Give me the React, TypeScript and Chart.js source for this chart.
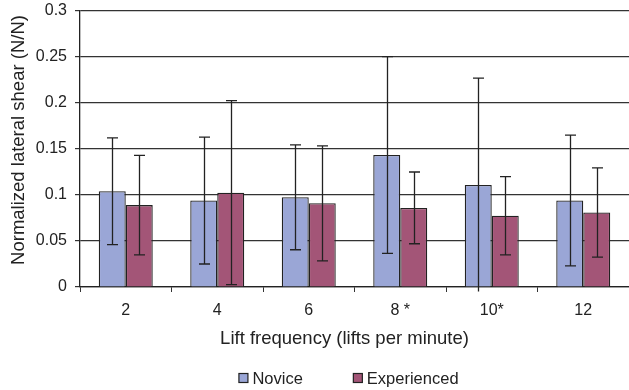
import React, { useEffect, useRef } from "react";
import { Chart, registerables } from "chart.js";

Chart.register(...registerables);

const categories = ["2", "4", "6", "8 *", "10*", "12"];
const seriesNames = ["Novice", "Experienced"];
const noviceMeans = [0.104, 0.094, 0.0975, 0.1435, 0.111, 0.094];
const noviceSD = [0.058, 0.069, 0.057, 0.107, 0.116, 0.071];
const experiencedMeans = [0.089, 0.1025, 0.091, 0.086, 0.0775, 0.081];
const experiencedSD = [0.054, 0.1, 0.0625, 0.039, 0.0425, 0.0485];
const yTicks = [0, 0.05, 0.1, 0.15, 0.2, 0.25, 0.3];
const xTitle = "Lift frequency (lifts per minute)";
const yTitle = "Normalized lateral shear (N/N)";
const colors = ["#9aa6d6", "#a35577"];

const FONT = "'Liberation Sans', Arial, sans-serif";

const errorBarPlugin = {
  id: "errorBars",
  afterDatasetsDraw(chart: any) {
    const ctx = chart.ctx;
    const yScale = chart.scales.y;
    const sds = [noviceSD, experiencedSD];
    ctx.save();
    ctx.strokeStyle = "#222";
    ctx.lineWidth = 1.3;
    chart.data.datasets.forEach((ds: any, di: number) => {
      const meta = chart.getDatasetMeta(di);
      meta.data.forEach((bar: any, i: number) => {
        const v = ds.data[i];
        const sd = sds[di][i];
        const x = Math.round(bar.x) + 0.5;
        const hi = v + sd;
        const lo = v - sd;
        const yHi = yScale.getPixelForValue(hi);
        const yLo = yScale.getPixelForValue(lo);
        ctx.beginPath();
        ctx.moveTo(x, yHi);
        ctx.lineTo(x, yLo);
        ctx.moveTo(x - 5.5, yHi);
        ctx.lineTo(x + 5.5, yHi);
        if (lo >= 0) {
          ctx.moveTo(x - 5.5, yLo);
          ctx.lineTo(x + 5.5, yLo);
        }
        ctx.stroke();
      });
    });
    ctx.restore();
  },
};

const textPlugin = {
  id: "texts",
  afterDraw(chart: any) {
    const ctx = chart.ctx;
    const area = chart.chartArea;
    const cx = (area.left + area.right) / 2;
    ctx.save();
    ctx.fillStyle = "#222";
    ctx.textBaseline = "middle";
    // x title
    ctx.font = `18.5px ${FONT}`;
    ctx.textAlign = "center";
    ctx.fillText(xTitle, cx - 10, area.bottom + 52);
    // y title
    ctx.save();
    ctx.translate(19, 140);
    ctx.rotate(-Math.PI / 2);
    ctx.fillText(yTitle, 0, 0);
    ctx.restore();
    // legend
    ctx.font = `16.5px ${FONT}`;
    ctx.textAlign = "left";
    const box = 9;
    const gapBoxText = 5;
    const gapItems = 50;
    const widths = seriesNames.map((n) => ctx.measureText(n).width);
    const total =
      widths.reduce((a, b) => a + b, 0) + 2 * (box + gapBoxText) + gapItems;
    let x = cx - 6 - total / 2;
    const ly = area.bottom + 92;
    seriesNames.forEach((name, i) => {
      ctx.fillStyle = colors[i];
      ctx.fillRect(x + 0.5, ly - 5.5, box, box);
      ctx.strokeStyle = "#222";
      ctx.lineWidth = 1.2;
      ctx.strokeRect(x + 0.5, ly - 5.5, box, box);
      x += box + gapBoxText;
      ctx.fillStyle = "#222";
      ctx.fillText(name, x, ly);
      x += widths[i] + gapItems;
    });
    ctx.restore();
  },
};

export default function App() {
  const ref = useRef<HTMLCanvasElement | null>(null);
  useEffect(() => {
    document.body.style.margin = "0";
    const chart = new Chart(ref.current as HTMLCanvasElement, {
      type: "bar",
      data: {
        labels: categories,
        datasets: [
          {
            label: seriesNames[0],
            data: noviceMeans,
            backgroundColor: colors[0],
            borderColor: "#222",
            borderWidth: 1.3,
            categoryPercentage: 0.59,
            barPercentage: 1,
          },
          {
            label: seriesNames[1],
            data: experiencedMeans,
            backgroundColor: colors[1],
            borderColor: "#222",
            borderWidth: 1.3,
            categoryPercentage: 0.59,
            barPercentage: 1,
          },
        ],
      },
      options: {
        animation: false,
        responsive: false,
        maintainAspectRatio: false,
        layout: { padding: { top: 11, right: 0, left: 0, bottom: 22 } },
        plugins: {
          legend: { display: false },
          tooltip: { enabled: false },
        },
        scales: {
          x: {
            afterFit: (scale: any) => {
              scale.height = 81;
              scale.paddingLeft = 0;
              scale.paddingRight = 0;
            },
            grid: {
              display: true,
              drawOnChartArea: false,
              drawTicks: true,
              tickLength: 5,
              offset: true,
              color: "#333",
            },
            border: { color: "#222", width: 1.3 },
            ticks: { color: "#222", font: { family: FONT, size: 16 }, padding: 9 },
          },
          y: {
            min: 0,
            max: 0.3,
            afterBuildTicks: (scale: any) => {
              scale.ticks = yTicks.map((v) => ({ value: v }));
            },
            afterFit: (scale: any) => {
              scale.width = 80;
              scale.paddingTop = 0;
              scale.paddingBottom = 0;
            },
            grid: { color: "#333", lineWidth: 1.2, tickLength: 5 },
            border: { color: "#222", width: 1.3 },
            ticks: {
              color: "#222",
              font: { family: FONT, size: 16 },
              padding: 8,
              callback: (v: any) => String(Number(v)),
            },
          },
        },
      },
      plugins: [errorBarPlugin, textPlugin],
    } as any);
    return () => chart.destroy();
  }, []);
  return (
    <div style={{ width: 629, height: 390 }}>
      <canvas ref={ref} width={629} height={390} style={{ display: "block" }} />
    </div>
  );
}
